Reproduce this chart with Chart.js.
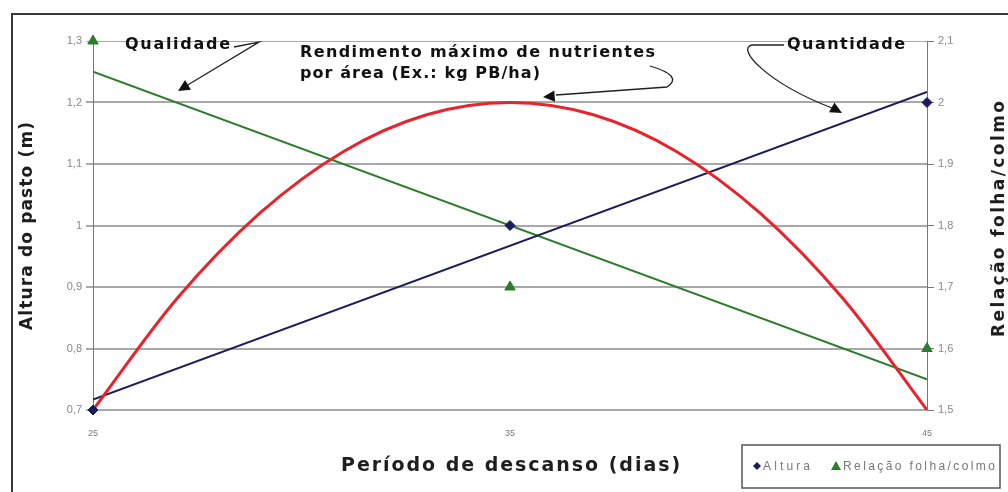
<!DOCTYPE html>
<html>
<head>
<meta charset="utf-8">
<script src="https://cdn.jsdelivr.net/npm/chart.js@4"></script>
<style>
  html, body { margin: 0; padding: 0; background: #fff; }
  #wrap { width: 1008px; height: 492px; }
</style>
</head>
<body>
<div id="wrap"><canvas id="myChart" width="1008" height="492"></canvas></div>
<script>
// data
const days = [25, 35, 45];
const alturaValues = [0.7, 1.0, 1.2];
const relacaoValues = [2.1, 1.7, 1.6];
const trendDays = [25, 45];
const alturaTrend = [0.717, 1.217];
const relacaoTrend = [2.05, 1.55];
const curveDays = [25, 27, 29, 31, 33, 35, 37, 39, 41, 43, 45];
const rendimentoValues = [0.7, 0.88, 1.02, 1.12, 1.18, 1.2, 1.18, 1.12, 1.02, 0.88, 0.7];

const seriesNames = ['Altura', 'Relação folha/colmo'];
const xTitle = 'Período de descanso (dias)';
const leftTitle = 'Altura do pasto (m)';
const rightTitle = 'Relação folha/colmo';

const navy = '#1c1c5c';
const green = '#2a7d2a';
const red = '#e8232b';
const FONT = '"Liberation Sans", Arial, sans-serif';
const BOLD = '"DejaVu Sans", "Liberation Sans", sans-serif';

function toPoints(xs, ys) {
    return xs.map((x, i) => ({ x: x, y: ys[i] }));
}

function fmt(v) {
    return String(Math.round(v * 10) / 10).replace('.', ',');
}

// write text so it spans about `width` px, like the stretched text in the picture
function fitText(ctx, text, x, y, width) {
    ctx.letterSpacing = '0px';
    const w = ctx.measureText(text).width;
    const sp = (width - w) / Math.max(1, text.length - 1);
    ctx.letterSpacing = sp.toFixed(2) + 'px';
    ctx.fillText(text, x, y);
    ctx.letterSpacing = '0px';
}

function arrowHead(ctx, fx, fy, tx, ty, size) {
    const a = Math.atan2(ty - fy, tx - fx);
    ctx.beginPath();
    ctx.moveTo(tx, ty);
    ctx.lineTo(tx - size * Math.cos(a - 0.45), ty - size * Math.sin(a - 0.45));
    ctx.lineTo(tx - size * Math.cos(a + 0.45), ty - size * Math.sin(a + 0.45));
    ctx.closePath();
    ctx.fill();
}

const decorPlugin = {
    id: 'decor',
    beforeDraw(chart) {
        const ctx = chart.ctx;
        ctx.save();
        ctx.fillStyle = '#fff';
        ctx.fillRect(0, 0, chart.width, chart.height);
        ctx.strokeStyle = '#3a3a3a';
        ctx.lineWidth = 2;
        ctx.strokeRect(12, 14, 1100, 600);
        ctx.restore();
    },
    afterDraw(chart) {
        const ctx = chart.ctx;
        ctx.save();
        ctx.fillStyle = '#1e1e1e';
        ctx.textBaseline = 'middle';
        ctx.textAlign = 'left';

        // axis titles
        ctx.font = 'bold 19px ' + BOLD;
        fitText(ctx, xTitle, 341, 466, 339);

        ctx.font = 'bold 17px ' + BOLD;
        ctx.save();
        ctx.translate(28, 330);
        ctx.rotate(-Math.PI / 2);
        fitText(ctx, leftTitle, 0, 0, 208);
        ctx.restore();
        ctx.save();
        ctx.translate(1000, 337);
        ctx.rotate(-Math.PI / 2);
        fitText(ctx, rightTitle, 0, 0, 236);
        ctx.restore();

        // annotations
        ctx.fillStyle = '#111';
        ctx.font = 'bold 16px ' + BOLD;
        fitText(ctx, 'Qualidade', 125, 45, 105);
        fitText(ctx, 'Rendimento máximo de nutrientes', 300, 53, 355);
        fitText(ctx, 'por área (Ex.: kg PB/ha)', 300, 74, 240);
        fitText(ctx, 'Quantidade', 787, 45, 118);

        ctx.strokeStyle = '#222';
        ctx.lineWidth = 1.3;
        // Qualidade
        ctx.beginPath();
        ctx.moveTo(234, 47);
        ctx.lineTo(259, 42);
        ctx.lineTo(186, 86);
        ctx.stroke();
        arrowHead(ctx, 259, 42, 178, 91, 13);
        // Rendimento
        ctx.beginPath();
        ctx.moveTo(650, 66);
        ctx.quadraticCurveTo(684, 76, 667, 87);
        ctx.lineTo(556, 95);
        ctx.stroke();
        arrowHead(ctx, 667, 88, 543, 97, 13);
        // Quantidade
        ctx.beginPath();
        ctx.moveTo(784, 45);
        ctx.lineTo(752, 45);
        ctx.bezierCurveTo(736, 48, 765, 82, 832, 108);
        ctx.stroke();
        arrowHead(ctx, 800, 90, 842, 113, 13);

        // legend
        ctx.strokeStyle = '#555';
        ctx.lineWidth = 1.5;
        ctx.strokeRect(742, 445, 258, 43);
        ctx.fillStyle = navy;
        ctx.beginPath();
        ctx.moveTo(757, 462); ctx.lineTo(761, 466); ctx.lineTo(757, 470); ctx.lineTo(753, 466);
        ctx.closePath();
        ctx.fill();
        ctx.fillStyle = green;
        ctx.beginPath();
        ctx.moveTo(836, 461); ctx.lineTo(841, 470); ctx.lineTo(831, 470);
        ctx.closePath();
        ctx.fill();
        ctx.fillStyle = '#777';
        ctx.font = '12px ' + FONT;
        fitText(ctx, seriesNames[0], 763, 467, 47);
        fitText(ctx, seriesNames[1], 843, 467, 152);
        ctx.restore();
    }
};

const ctx = document.getElementById('myChart');

const config = {
    type: 'scatter',
    data: {
        datasets: [
            {
                label: seriesNames[0],
                data: toPoints(days, alturaValues),
                yAxisID: 'y',
                pointStyle: 'rectRot',
                pointRadius: 5,
                backgroundColor: navy,
                borderColor: navy,
                showLine: false,
                clip: false
            },
            {
                label: seriesNames[1],
                data: toPoints(days, relacaoValues),
                yAxisID: 'y1',
                pointStyle: 'triangle',
                pointRadius: 6,
                backgroundColor: green,
                borderColor: green,
                showLine: false,
                clip: false
            },
            {
                label: 'rendimento',
                data: toPoints(curveDays, rendimentoValues),
                yAxisID: 'y',
                showLine: true,
                borderColor: red,
                borderWidth: 3,
                pointRadius: 0,
                cubicInterpolationMode: 'monotone'
            },
            {
                label: 'tend. altura',
                data: toPoints(trendDays, alturaTrend),
                yAxisID: 'y',
                showLine: true,
                borderColor: navy,
                borderWidth: 2,
                pointRadius: 0
            },
            {
                label: 'tend. relacao',
                data: toPoints(trendDays, relacaoTrend),
                yAxisID: 'y1',
                showLine: true,
                borderColor: green,
                borderWidth: 2,
                pointRadius: 0
            }
        ]
    },
    options: {
        responsive: false,
        animation: false,
        layout: { padding: { top: 41, left: 0, right: 0, bottom: 0 } },
        plugins: {
            legend: { display: false },
            tooltip: { enabled: false }
        },
        scales: {
            x: {
                type: 'linear',
                min: 25,
                max: 45,
                ticks: { stepSize: 10, color: '#777', font: { size: 9, family: FONT }, padding: 10 },
                grid: { display: false },
                border: { display: false },
                afterFit(scale) { scale.height = 82; }
            },
            y: {
                position: 'left',
                min: 0.7,
                max: 1.3,
                ticks: {
                    stepSize: 0.1,
                    color: '#888',
                    font: { size: 11, family: FONT },
                    padding: 4,
                    callback: (v) => fmt(v)
                },
                grid: {
                    color: '#a8a8a8',
                    lineWidth: (c) => (c.tick && Math.abs(c.tick.value - 1.3) < 0.001 ? 1 : 2),
                    tickLength: 7
                },
                border: { color: '#777', width: 1 },
                afterFit(scale) { scale.width = 93; }
            },
            y1: {
                position: 'right',
                min: 1.5,
                max: 2.1,
                ticks: {
                    stepSize: 0.1,
                    color: '#888',
                    font: { size: 11, family: FONT },
                    padding: 4,
                    callback: (v) => fmt(v)
                },
                grid: { drawOnChartArea: false, color: '#777', tickLength: 7 },
                border: { color: '#777', width: 1 },
                afterFit(scale) { scale.width = 81; }
            }
        }
    },
    plugins: [decorPlugin]
};

const chart = new Chart(ctx, config);
</script>
</body>
</html>
